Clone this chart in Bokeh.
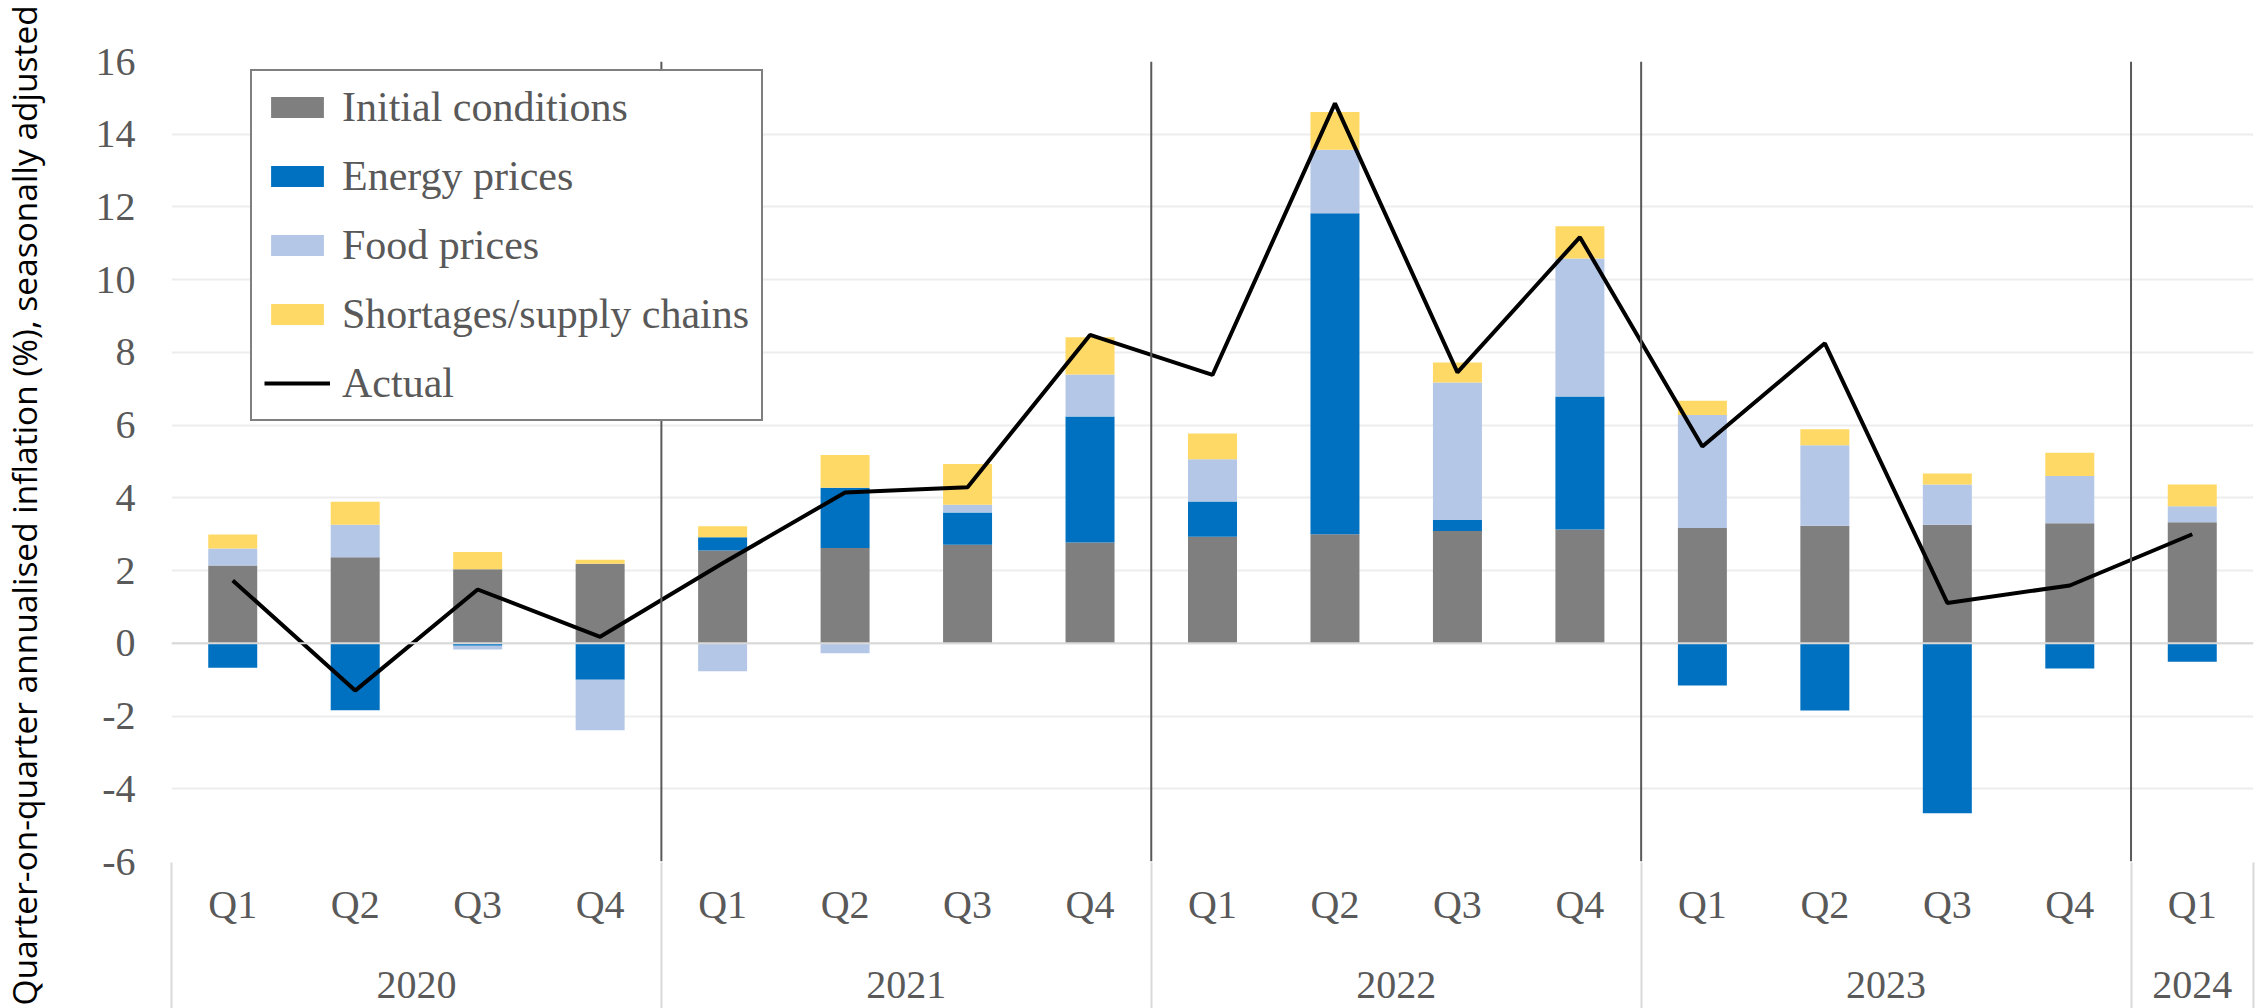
import numpy as np
from bokeh.plotting import figure
from bokeh.layouts import row
from bokeh.models import (Range1d, FixedTicker, Legend, LegendItem, Span,
                          LinearAxis, Title)
from bokeh.embed import file_html
from bokeh.resources import INLINE

# ---------------- data ----------------
years = ["2020"] * 4 + ["2021"] * 4 + ["2022"] * 4 + ["2023"] * 4 + ["2024"]
quarters = ["Q1", "Q2", "Q3", "Q4"] * 4 + ["Q1"]

initial_conditions = [2.14, 2.37, 2.04, 2.19, 2.55, 2.62, 2.71, 2.77, 2.93,
                      3.00, 3.09, 3.13, 3.17, 3.23, 3.26, 3.30, 3.33]
energy_prices = [-0.67, -1.84, -0.07, -1.00, 0.37, 1.66, 0.89, 3.47, 0.97,
                 8.83, 0.30, 3.66, -1.16, -1.85, -4.67, -0.69, -0.51]
food_prices = [0.47, 0.89, -0.10, -1.39, -0.77, -0.27, 0.21, 1.15, 1.16,
               1.74, 3.78, 3.79, 3.11, 2.22, 1.11, 1.30, 0.44]
shortages = [0.38, 0.63, 0.47, 0.11, 0.30, 0.90, 1.12, 1.03, 0.71,
             1.04, 0.55, 0.89, 0.39, 0.44, 0.30, 0.64, 0.60]
actual = [1.73, -1.30, 1.48, 0.18, 2.20, 4.15, 4.29, 8.48, 7.38,
          14.85, 7.45, 11.17, 5.41, 8.25, 1.11, 1.59, 3.00]

y_ticks = [-6, -4, -2, 0, 2, 4, 6, 8, 10, 12, 14, 16]

series_names = ["Initial conditions", "Energy prices", "Food prices",
                "Shortages/supply chains"]
series_values = [initial_conditions, energy_prices, food_prices, shortages]
series_colors = ["#7F7F7F", "#0070C0", "#B4C7E7", "#FFD966"]

y_title = "Quarter-on-quarter annualised inflation (%), seasonally adjusted"

# ---------------- derived category positions ----------------
n = len(quarters)
xc = np.arange(n) + 0.5                       # category centres
bounds = [0] + [i for i in range(1, n) if years[i] != years[i - 1]] + [n]
year_names = [years[b] for b in bounds[:-1]]
year_centres = [(a + b) / 2 for a, b in zip(bounds[:-1], bounds[1:])]

W, H = 2255, 1008
TITLE_W = 60
FRAME_LEFT, FRAME_TOP, BORDER_BOTTOM = 171, 61, 146
TICK_FONT = "Liberation Serif"
GRAY = "#595959"

# ---------------- y-axis title strip ----------------
pt = figure(width=TITLE_W, height=H, x_range=Range1d(0, 1), y_range=Range1d(0, 1),
            x_axis_type=None, y_axis_type=None,
            output_backend="svg", toolbar_location=None,
            min_border_left=0, min_border_right=0,
            min_border_top=FRAME_TOP, min_border_bottom=BORDER_BOTTOM)
pt.outline_line_color = None
pt.add_layout(Title(text=y_title, align="left", offset=-(BORDER_BOTTOM - 2),
                    vertical_align="top", standoff=0,
                    text_font="Open Sans", text_font_size="33.5px",
                    text_font_style="normal", text_color="black"), "left")

# ---------------- main figure ----------------
p = figure(width=W - TITLE_W, height=H, x_range=Range1d(0, n),
           y_range=Range1d(y_ticks[0], y_ticks[-1]),
           output_backend="svg", toolbar_location=None,
           min_border_left=FRAME_LEFT - TITLE_W, min_border_right=2,
           min_border_top=FRAME_TOP, min_border_bottom=BORDER_BOTTOM)
p.outline_line_color = None
p.background_fill_color = "white"
p.border_fill_color = "white"

# y axis
ya = p.yaxis[0]
ya.ticker = FixedTicker(ticks=y_ticks)
ya.major_label_overrides = {t: str(t) for t in y_ticks}
ya.axis_line_color = None
ya.major_tick_line_color = None
ya.minor_tick_line_color = None
ya.major_label_text_font = TICK_FONT
ya.major_label_text_font_size = "40px"
ya.major_label_text_color = GRAY
ya.major_label_standoff = 30

p.ygrid.ticker = FixedTicker(ticks=y_ticks)
p.ygrid.grid_line_color = "#EDEDED"
p.ygrid.grid_line_width = 2
p.xgrid.grid_line_color = None

# quarter axis
qa = p.xaxis[0]
qa.ticker = FixedTicker(ticks=list(xc), minor_ticks=[])
qa.major_label_overrides = {float(c): q for c, q in zip(xc, quarters)}
qa.axis_line_color = None
qa.major_tick_line_color = None
qa.minor_tick_line_color = None
qa.major_label_text_font = TICK_FONT
qa.major_label_text_font_size = "40px"
qa.major_label_text_color = GRAY
qa.major_label_standoff = 14

# year axis
yr = LinearAxis(ticker=FixedTicker(ticks=year_centres, minor_ticks=[]),
                major_label_overrides={float(c): y for c, y in zip(year_centres, year_names)})
yr.axis_line_color = None
yr.major_tick_line_color = None
yr.minor_tick_line_color = None
yr.major_label_text_font = TICK_FONT
yr.major_label_text_font_size = "40px"
yr.major_label_text_color = GRAY
yr.major_label_standoff = 36
p.add_layout(yr, "below")

# separator axis at the very bottom: its ticks point up to the plot
sep = LinearAxis(ticker=FixedTicker(ticks=[float(b) for b in bounds], minor_ticks=[]),
                 major_label_overrides={float(b): "" for b in bounds})
sep.axis_line_color = None
sep.major_tick_line_color = "#D9D9D9"
sep.major_tick_line_width = 2
sep.major_tick_in = 138
sep.major_tick_out = 8
sep.minor_tick_line_color = None
sep.major_label_text_font_size = "0px"
sep.major_label_standoff = 0
p.add_layout(sep, "below")

# zero line
p.add_layout(Span(location=0, dimension="width", line_color="#D9D9D9",
                  line_width=2))

# stacked bars (positive and negative stacks kept separately)
pos_base = np.zeros(n)
neg_base = np.zeros(n)
renderers = []
for name, vals, color in zip(series_names, series_values, series_colors):
    v = np.asarray(vals, dtype=float)
    bottom = np.where(v >= 0, pos_base, neg_base)
    top = bottom + v
    pos_base = np.where(v >= 0, top, pos_base)
    neg_base = np.where(v < 0, top, neg_base)
    r = p.vbar(x=xc, bottom=bottom, top=top, width=0.4,
               fill_color=color, line_color=None)
    renderers.append((name, r))

# year dividers inside the plot
for b in bounds[1:-1]:
    p.add_layout(Span(location=b, dimension="height",
                      line_color="#595959", line_width=2))

line_r = p.line(x=xc, y=actual, line_color="black", line_width=4)
renderers.append(("Actual", line_r))

legend = Legend(items=[LegendItem(label=nm, renderers=[r]) for nm, r in renderers],
                location=(79, 440), orientation="vertical")
legend.border_line_color = "black"
legend.border_line_width = 2
legend.background_fill_color = "white"
legend.background_fill_alpha = 1
legend.label_text_font = TICK_FONT
legend.label_text_font_size = "42px"
legend.label_text_color = GRAY
legend.glyph_width = 66
legend.glyph_height = 26
legend.label_height = 26
legend.label_standoff = 12
legend.spacing = 21
legend.padding = 12
legend.margin = 0
p.add_layout(legend, "center")

layout = row(pt, p, spacing=0)
open("out.html", "w").write(file_html(layout, INLINE))
